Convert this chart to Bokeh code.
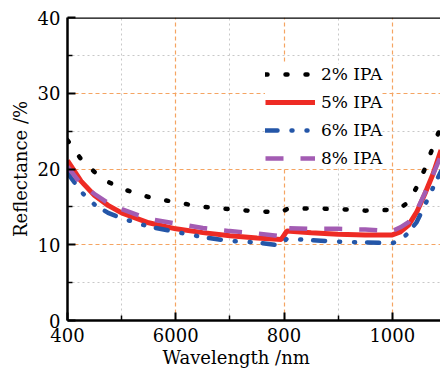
from bokeh.plotting import figure
from bokeh.models import FixedTicker, Span, Legend, LegendItem, Range1d, Title
from bokeh.embed import file_html
from bokeh.resources import INLINE

# ---- data ----
wavelength = [400, 425, 450, 475, 500, 550, 600, 650, 700, 750, 795, 805,
              850, 900, 950, 1000, 1015, 1030, 1045, 1060, 1075, 1090]
ipa2 = [23.8, 21.3, 19.6, 18.3, 17.4, 16.3, 15.6, 15.0, 14.7, 14.4, 14.3, 14.7,
        14.8, 14.7, 14.5, 14.6, 14.9, 15.6, 17.6, 20.0, 22.9, 25.7]
ipa5 = [21.1, 18.4, 16.5, 15.2, 14.2, 12.9, 12.1, 11.6, 11.2, 10.9, 10.7, 11.8,
        11.6, 11.4, 11.3, 11.3, 11.7, 12.6, 14.3, 16.7, 19.3, 22.5]
ipa6 = [19.5, 17.0, 15.3, 14.2, 13.5, 12.4, 11.7, 11.0, 10.5, 10.3, 9.9, 10.8,
        10.6, 10.4, 10.3, 10.2, 10.6, 11.6, 13.0, 15.2, 17.5, 19.7]
ipa8 = [20.3, 18.0, 16.7, 15.5, 14.7, 13.4, 12.8, 12.2, 11.8, 11.5, 11.1, 12.2,
        12.1, 12.1, 12.0, 11.8, 12.3, 13.0, 14.5, 16.8, 19.2, 21.8]
series_labels = ["2% IPA", "5% IPA", "6% IPA", "8% IPA"]

x_ticks = [400, 600, 800, 1000]
x_tick_labels = ["400", "6000", "800", "1000"]
x_minor = [500, 700, 900]
y_ticks = [0, 10, 20, 30, 40]
y_minor = [5, 15, 25, 35]

FONT = "DejaVu Serif"

p = figure(width=440, height=373, output_backend="svg", toolbar_location=None,
           x_range=Range1d(400, 1089), y_range=Range1d(0, 40),
           min_border_left=67, min_border_right=0, min_border_top=17,
           min_border_bottom=53)
p.outline_line_color = None
p.background_fill_color = "white"
p.border_fill_color = "white"

p.xaxis.ticker = FixedTicker(ticks=x_ticks, minor_ticks=x_minor)
p.yaxis.ticker = FixedTicker(ticks=y_ticks, minor_ticks=y_minor)
p.xaxis.major_label_overrides = {t: l for t, l in zip(x_ticks, x_tick_labels)}

for ax in (p.xaxis[0], p.yaxis[0]):
    ax.axis_line_width = 2.5
    ax.axis_line_color = "black"
    ax.major_tick_in = 8
    ax.major_tick_out = 0
    ax.minor_tick_in = 5
    ax.minor_tick_out = 0
    ax.major_tick_line_width = 2
    ax.minor_tick_line_width = 1.5
    ax.major_tick_line_color = "black"
    ax.minor_tick_line_color = "black"
    ax.major_label_text_font = FONT
    ax.major_label_text_font_size = "18px"
    ax.major_label_text_color = "black"
    ax.axis_label_text_font = FONT
    ax.axis_label_text_font_size = "18px"
    ax.axis_label_text_font_style = "normal"
    ax.axis_label_text_color = "black"

p.yaxis.axis_label = "Reflectance /%"
p.xaxis.major_label_standoff = 7
p.yaxis.major_label_standoff = 7
p.yaxis.axis_label_standoff = 4

p.add_layout(Title(text="Wavelength /nm", align="left", offset=95, standoff=0,
                   text_font=FONT, text_font_size="18px", text_font_style="normal",
                   text_color="black"), "below")

for g in (p.xgrid[0], p.ygrid[0]):
    g.grid_line_color = "#f5a462"
    g.grid_line_dash = "4 3"
    g.grid_line_width = 1.2
    g.minor_grid_line_color = "#c8c8c8"
    g.minor_grid_line_dash = "2 3"
    g.minor_grid_line_width = 1

p.add_layout(Span(location=40, dimension="width", line_color="black", line_width=2.5))

r2 = p.line(wavelength, ipa2, line_color="black", line_width=4.5,
            line_dash="2 18", line_cap="round")
r5 = p.line(wavelength, ipa5, line_color="#ee2b24", line_width=5)
r6 = p.line(wavelength, ipa6, line_color="#2456a8", line_width=4.5,
            line_dash="12 14 1 14 1 12", line_cap="round")
r8 = p.line(wavelength, ipa8, line_color="#a35cb3", line_width=4.5,
            line_dash="18 17")

legend = Legend(items=[LegendItem(label=l, renderers=[r]) for l, r in
                       zip(series_labels, [r2, r5, r6, r8])],
                location=(198, 152), border_line_color=None,
                background_fill_color="white", background_fill_alpha=1.0,
                label_text_font=FONT, label_text_font_size="17px",
                label_text_color="black",
                glyph_width=50, glyph_height=20, label_height=20,
                label_standoff=6, spacing=8, padding=10, margin=0)
p.add_layout(legend)

open("out.html", "w").write(file_html(p, INLINE))
